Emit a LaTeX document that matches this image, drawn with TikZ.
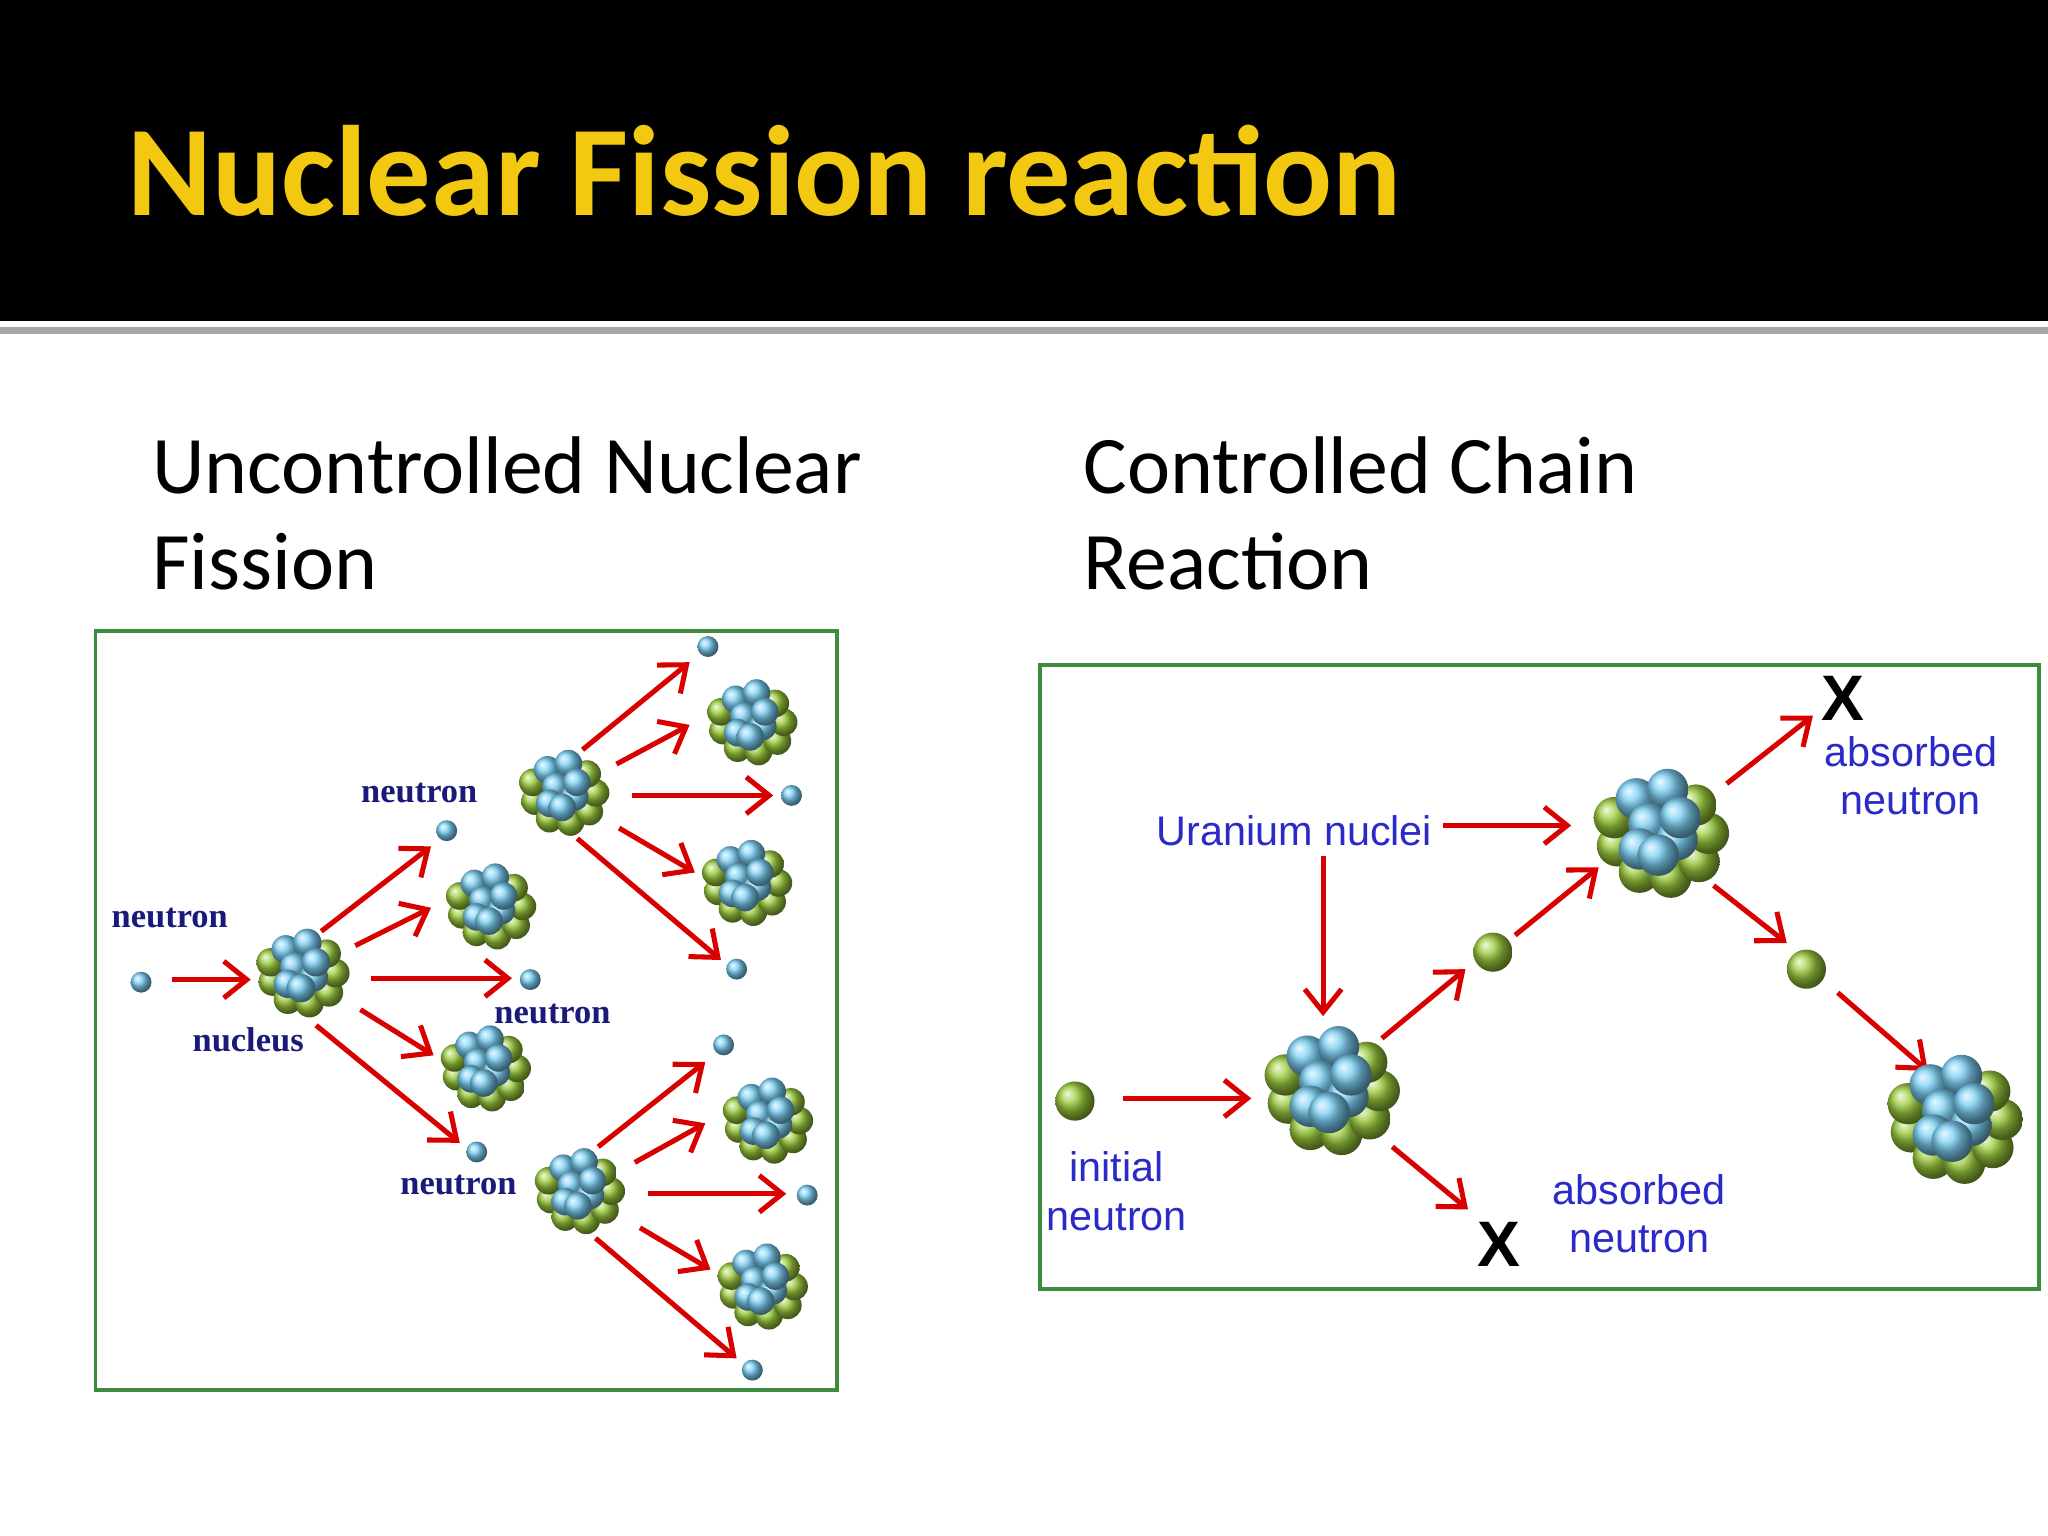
\documentclass[tikz,border=0pt]{standalone}
\usepackage{fontspec}
\setmainfont{Carlito}
\newfontfamily\lblserif{Liberation Serif}
\newfontfamily\lblsans{Liberation Sans}
\usetikzlibrary{arrows.meta,shadings}
\definecolor{titley}{HTML}{F2C811}
\definecolor{navy}{HTML}{1A1A7A}
\definecolor{lblue}{HTML}{2A2AC8}
\definecolor{boxg}{HTML}{3C8C3C}
\definecolor{nblue}{HTML}{7CD0F5}
\definecolor{ngreen}{HTML}{9CCC3C}
\tikzset{
  arr/.style={red!85!black,line width=1.1pt,-{Straight Barb[length=5pt,width=8pt]}},
  lbl/.style={font=\lblserif\bfseries\fontsize{7.5}{8}\selectfont,text=navy},
  rlbl/.style={font=\lblsans\fontsize{9}{10.5}\selectfont,text=lblue,align=center},
  head/.style={font=\fontsize{17.8}{21}\selectfont,anchor=base west,inner sep=0pt},
  xmark/.style={font=\lblsans\bfseries\fontsize{14}{14}\selectfont}
}
\newcommand\nucl[3]{%
  \foreach \dx/\dy/\c in {-0.7/0.2/ngreen,-0.35/0.62/ngreen,0.15/0.7/ngreen,0.6/0.45/ngreen,0.75/0/ngreen,-0.75/-0.25/ngreen,0.55/-0.45/ngreen,
     -0.4/-0.55/nblue,0.1/-0.7/nblue,-0.2/-0.15/nblue,0.25/0.1/nblue,-0.35/0.25/nblue,0.3/-0.25/nblue,-0.05/0.35/nblue}
    {\shade[ball color=\c] (#1+#3*\dx,#2+#3*\dy) circle[radius=#3*0.0033cm];}}
\newcommand\bdot[3]{\shade[ball color=nblue] (#1,#2) circle[radius=#3*0.01cm];}
\newcommand\gdot[2]{\shade[ball color=ngreen] (#1,#2) circle[radius=0.15cm];}
\begin{document}
\begin{tikzpicture}[x=0.01cm,y=-0.01cm]
\useasboundingbox (0,0) rectangle (1568,1176);
\fill[white] (0,0) rectangle (1568,1176);
\fill[black] (0,0) rectangle (1568,246);
\draw[gray!70,line width=1.5pt] (0,253) -- (1568,253);
\node[anchor=base west,inner sep=0pt,text=titley,font=\bfseries\fontsize{28}{32}\selectfont] (title) at (97,165) {Nuclear Fission reaction};
\node[head] (h1) at (116,378) {Uncontrolled Nuclear};
\node[head] (h1b) at (116,451) {Fission};
\node[head] (h2) at (829,378) {Controlled Chain};
\node[head] (h2b) at (829,451) {Reaction};
\draw[boxg,line width=0.8pt] (73,483) rectangle (641,1064);
\draw[boxg,line width=0.8pt] (796,509) rectangle (1561,987);
% left diagram
\bdot{108}{752}{8}
\node[lbl] (l1) at (130,703) {neutron};
\node[lbl] (l2) at (190,796) {nucleus};
\node[lbl] (l3) at (321,607) {neutron};
\node[lbl] (l4) at (423,776) {neutron};
\node[lbl] (l5) at (351,907) {neutron};
\draw[arr] (132,750) -- (192,750);
\nucl{232}{745}{33}
\draw[arr] (246,713) -- (330,648); \bdot{342}{636}{8}
\draw[arr] (272,724) -- (330,695); \nucl{376}{694}{32}
\draw[arr] (284,749) -- (392,749); \bdot{406}{750}{8}
\draw[arr] (276,773) -- (332,808); \nucl{372}{818}{32}
\draw[arr] (242,785) -- (352,875); \bdot{365}{882}{8}
\nucl{432}{607}{32}
\draw[arr] (446,574) -- (528,507); \bdot{542}{495}{8}
\draw[arr] (472,585) -- (528,555); \nucl{576}{553}{32}
\draw[arr] (484,609) -- (592,609); \bdot{606}{609}{8}
\draw[arr] (474,634) -- (532,668); \nucl{572}{676}{32}
\draw[arr] (442,642) -- (552,735); \bdot{564}{742}{8}
\nucl{444}{912}{32}
\draw[arr] (458,878) -- (540,813); \bdot{554}{800}{8}
\draw[arr] (486,890) -- (540,860); \nucl{588}{858}{32}
\draw[arr] (496,914) -- (602,914); \bdot{618}{915}{8}
\draw[arr] (490,940) -- (544,972); \nucl{584}{985}{32}
\draw[arr] (456,948) -- (564,1040); \bdot{576}{1049}{8}
% right diagram
\gdot{823}{843}
\draw[arr] (860,841) -- (958,841);
\node[rlbl] (in) at (855,912) {initial\\neutron};
\nucl{1020}{835}{48}
\node[rlbl] (un) at (991,636) {Uranium nuclei};
\draw[arr] (1105,632) -- (1203,632);
\draw[arr] (1013,655) -- (1013,778);
\draw[arr] (1058,795) -- (1122,742);
\gdot{1143}{729}
\draw[arr] (1160,716) -- (1224,664);
\nucl{1272}{638}{48}
\draw[arr] (1322,600) -- (1388,548);
\node[xmark] (x1) at (1411,535) {X};
\node[rlbl] (ab1) at (1463,594) {absorbed\\neutron};
\draw[arr] (1312,678) -- (1368,722);
\gdot{1383}{742}
\draw[arr] (1407,760) -- (1476,820);
\nucl{1497}{857}{48}
\draw[arr] (1066,878) -- (1124,926);
\node[xmark] (x2) at (1148,953) {X};
\node[rlbl] (ab2) at (1255,929) {absorbed\\neutron};
\end{tikzpicture}
\end{document}
